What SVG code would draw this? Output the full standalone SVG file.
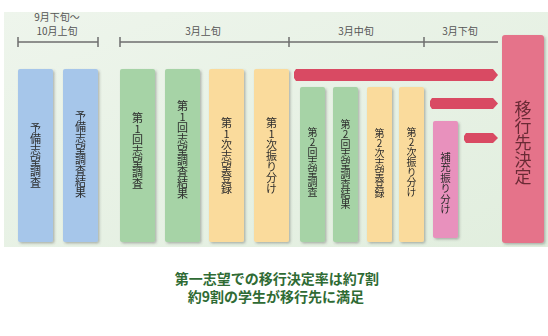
<svg xmlns="http://www.w3.org/2000/svg" width="548" height="336" viewBox="0 0 548 336">
<defs>
<filter id="sh" x="-20%" y="-5%" width="150%" height="115%">
<feDropShadow dx="1.5" dy="1.5" stdDeviation="1" flood-color="#404040" flood-opacity="0.35"/>
</filter>
<linearGradient id="bg" x1="0" y1="0" x2="1" y2="1">
<stop offset="0" stop-color="#eef5ec"/>
<stop offset="1" stop-color="#e1eede"/>
</linearGradient>
</defs>
<style>
.tl{stroke:#6e6e6e;stroke-width:1.5;fill:none}
.tt{font-family:"Noto Sans CJK JP","Noto Sans",sans-serif;font-size:10px;fill:#555;text-anchor:middle}
.bx{filter:url(#sh)}
.vt{font-family:"Noto Sans CJK JP","Noto Sans",sans-serif;fill:#2c2c2c;text-anchor:middle;writing-mode:vertical-rl;text-orientation:upright}
.f11{font-size:11px}
.f10{font-size:10px}
.blue{fill:#a6c6ea}
.green{fill:#a6d3a6}
.orange{fill:#fadb9c}
.pink{fill:#e891bd}
.red{fill:#e5738a}
.arr{fill:#d94a63}
.bt{font-family:"Noto Sans CJK JP","Noto Sans",sans-serif;font-size:14px;font-weight:bold;fill:#2f6b34;text-anchor:middle}
</style>
<rect x="0" y="0" width="548" height="336" fill="#ffffff"/>
<rect x="4" y="12" width="544" height="235" fill="url(#bg)"/>
<g id="timeline">
<line class="tl" x1="18" y1="42" x2="98" y2="42"/>
<line class="tl" x1="18" y1="37" x2="18" y2="47"/>
<line class="tl" x1="98" y1="37" x2="98" y2="47"/>
<line class="tl" x1="120" y1="42" x2="498" y2="42"/>
<line class="tl" x1="120" y1="37" x2="120" y2="47"/>
<line class="tl" x1="289" y1="37" x2="289" y2="47"/>
<line class="tl" x1="424" y1="37" x2="424" y2="47"/>
<text class="tt" x="57" y="20.5">9月下旬～</text>
<text class="tt" x="57" y="35">10月上旬</text>
<text class="tt" x="203" y="35">3月上旬</text>
<text class="tt" x="356" y="35">3月中旬</text>
<text class="tt" x="460" y="35">3月下旬</text>
</g>
<g id="connectors">
<polygon class="arr" points="296,69 493,69 498,75 493,81 296,81 294,78 294,72"/>
<polygon class="arr" points="432,98 493,98 498,103.5 493,109 432,109 430,106 430,101"/>
<polygon class="arr" points="466,133 493,133 498,138 493,143 466,143 464,140 464,136"/>
</g>
<g id="n1" class="bx"><rect class="blue" x="18" y="69" width="35" height="173" rx="2"/><text class="vt f11" x="35.5" y="155">予備志望調査</text></g>
<g id="n2" class="bx"><rect class="blue" x="63" y="69" width="35" height="173" rx="2"/><text class="vt f11" x="80.5" y="154">予備志望調査結果</text></g>
<g id="n3" class="bx"><rect class="green" x="120" y="69" width="35" height="173" rx="2"/><text class="vt f11" x="137.5" y="151">第1回志望調査</text></g>
<g id="n4" class="bx"><rect class="green" x="165" y="69" width="35" height="173" rx="2"/><text class="vt f11" x="182.5" y="150">第1回志望調査結果</text></g>
<g id="n5" class="bx"><rect class="orange" x="209" y="69" width="35" height="173" rx="2"/><text class="vt f11" x="226.5" y="156">第1次志望登録</text></g>
<g id="n6" class="bx"><rect class="orange" x="254" y="69" width="35" height="173" rx="2"/><text class="vt f11" x="271.5" y="156">第1次振り分け</text></g>
<g id="n7" class="bx"><rect class="green" x="300" y="87" width="25" height="155" rx="2"/><text class="vt f10" x="312.5" y="162">第2回志望調査</text></g>
<g id="n8" class="bx"><rect class="green" x="333" y="87" width="25" height="155" rx="2"/><text class="vt f10" x="345.5" y="164">第2回志望調査結果</text></g>
<g id="n9" class="bx"><rect class="orange" x="367" y="87" width="25" height="155" rx="2"/><text class="vt f10" x="379.5" y="163">第2次志望登録</text></g>
<g id="n10" class="bx"><rect class="orange" x="399" y="87" width="25" height="155" rx="2"/><text class="vt f10" x="411.5" y="162">第2次振り分け</text></g>
<g id="n11" class="bx"><rect class="pink" x="433" y="121" width="25" height="117" rx="2"/><text class="vt" style="font-size:10.5px" x="445.5" y="183">補充振り分け</text></g>
<g id="n12" class="bx"><rect class="red" x="502" y="35" width="42" height="208" rx="3"/><text class="vt" style="font-size:17px;fill:#6a2a35" x="523" y="143">移行先決定</text></g>
<g id="summary">
<text class="bt" x="277" y="284">第一志望での移行決定率は約7割</text>
<text class="bt" x="276" y="302">約9割の学生が移行先に満足</text>
</g>
</svg>
